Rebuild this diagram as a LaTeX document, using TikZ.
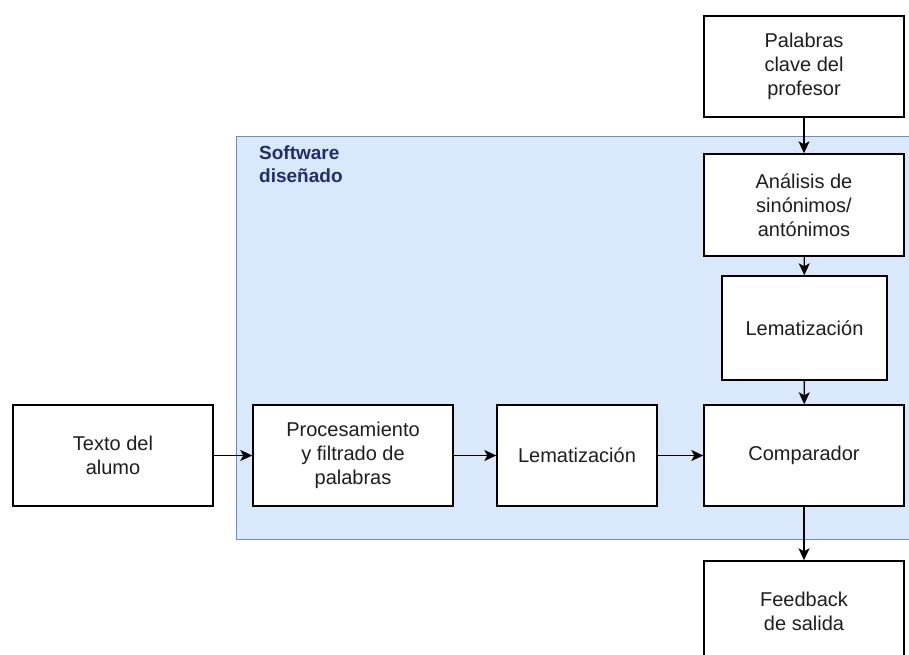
\documentclass[tikz,border=0pt]{standalone}
\usepackage{fontspec}
\setmainfont{Liberation Sans}
\usepackage{xcolor}
\usetikzlibrary{arrows.meta}
\definecolor{zonefill}{HTML}{DAE8FC}
\definecolor{zoneline}{HTML}{6C8EBF}
\definecolor{zonetext}{HTML}{232D6E}
\definecolor{boxtext}{HTML}{1E1E1E}

\tikzset{
    blk/.style={draw, line width=1.4pt, fill=white, align=center,
        text=boxtext, font=\fontsize{20}{24}\selectfont,
        minimum width=200pt, minimum height=101pt, inner sep=0pt},
    flow/.style={line width=1.4pt, -{Stealth[length=12pt,width=11pt,inset=3pt]}}
}

\begin{document}
\begin{tikzpicture}[x=1pt,y=-1pt]
    \clip (0, 0) rectangle (909, 655);
    \fill [white] (0, 0) rectangle (909, 655);
    \draw [fill=zonefill, draw=zoneline, line width=1pt] (236, 137) rectangle (930, 539);
    \path (259, 146) node [anchor=north west, align=left, inner sep=0pt, text=zonetext,
        font=\fontsize{19}{23}\selectfont\bfseries] (sw) {Software\\dise\~nado};
    \path (804, 66.5) node [blk] (pc) {Palabras\\clave del\\profesor};
    \path (804, 205) node [blk, minimum height=102pt] (as) {An\'alisis de\\sin\'onimos/\\ant\'onimos};
    \draw [flow] (pc) -- (as);
    \path (804.5, 328) node [blk, minimum width=165pt, minimum height=104pt] (lp) {Lematizaci\'on};
    \draw [flow] (as) -- (lp);
    \path (804, 455.5) node [blk] (co) {Comparador};
    \draw [flow] (lp) -- (co);
    \path (804, 611.5) node [blk] (fb) {Feedback\\de salida};
    \draw [flow] (co) -- (fb);
    \path (113, 455.5) node [blk] (ta) {Texto del\\alumo};
    \path (353, 455.5) node [blk] (pf) {Procesamiento\\y filtrado de\\palabras};
    \draw [flow] (ta) -- (pf);
    \path (577, 455.5) node [blk, minimum width=160pt] (la) {Lematizaci\'on};
    \draw [flow] (pf) -- (la);
    \draw [flow] (la) -- (co);
\end{tikzpicture}
\end{document}
